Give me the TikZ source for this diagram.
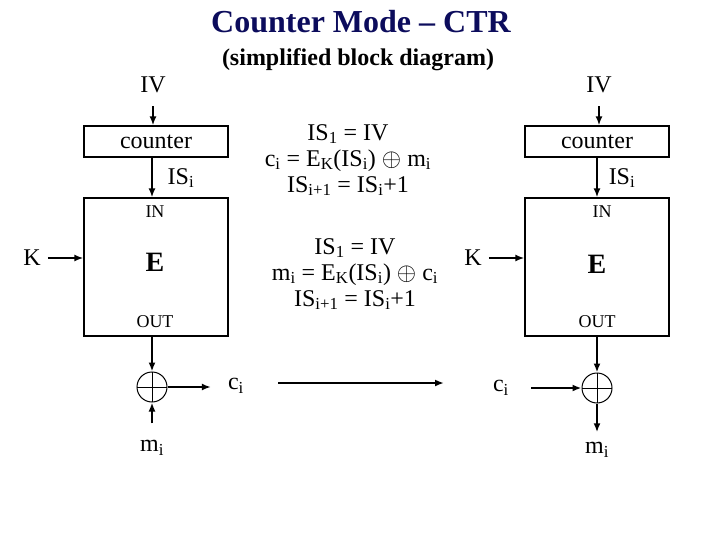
\documentclass[tikz,border=0pt]{standalone}
\usepackage{fontspec}
\setmainfont{Liberation Serif}
\usetikzlibrary{arrows.meta}
\definecolor{titleblue}{RGB}{12,12,92}
\newcommand{\sbs}[1]{\textsubscript{#1}}
\begin{document}
\begin{tikzpicture}[x=1pt,y=-1pt,
  box/.style={draw,line width=1.2pt,inner sep=0pt},
  arr/.style={line width=1.9pt,-{Latex[length=9pt,width=7pt]}},
  lbl/.style={font=\fontsize{24}{26}\selectfont,inner sep=0pt},
  small/.style={font=\fontsize{18}{20}\selectfont,inner sep=0pt},
  big/.style={font=\fontsize{28}{30}\selectfont\bfseries,inner sep=0pt},
  xor/.style={circle,draw,line width=1pt,minimum size=30pt,inner sep=0pt,
    path picture={\draw[line width=0.8pt] (path picture bounding box.north) -- (path picture bounding box.south)
      (path picture bounding box.west) -- (path picture bounding box.east);}},
  eqs/.style={font=\fontsize{24}{26}\selectfont,inner sep=0pt,align=center}
]
\useasboundingbox (0,0) rectangle (720,540);

% titles
\node[font=\fontsize{32}{34}\selectfont\bfseries,text=titleblue,inner sep=0pt] (title) at (361,22) {Counter Mode – CTR};
\node[font=\fontsize{24}{26}\selectfont\bfseries,inner sep=0pt] (sub) at (358,60) {(simplified block diagram)};

% left (encryption)
\node[lbl] (IVL) at (153,85) {IV};
\node[box,minimum width=144pt,minimum height=31pt,font=\fontsize{24}{26}\selectfont] (cntL) at (156,141.5) {counter};
\node[box,minimum width=144pt,minimum height=138pt] (EL) at (156,267) {};
\node[small] (INL) at (155,212) {IN};
\node[big] (EtL) at (155,262) {E};
\node[small] (OUTL) at (155,322) {OUT};
\node[lbl] (ISL) at (181,178) {IS\sbs{i}};
\node[lbl] (KL) at (32,258) {K};
\node[xor] (xL) at (152,387) {};
\node[lbl] (ciL) at (236,386) {c\sbs{i}};
\node[lbl] (miL) at (152,448) {m\sbs{i}};

\draw[arr] (IVL.south) ++(0,13) coordinate (ivls) -- (ivls |- cntL.north);
\draw[arr] (152,0 |- cntL.south) -- (152,0 |- EL.north);
\draw[arr] ([xshift=7pt]KL.east) -- (KL.east -| EL.west);
\draw[arr] (xL.north |- EL.south) -- (xL.north);
\draw[arr] (xL.east) -- ([xshift=-17pt]ciL.west |- xL.east);
\draw[arr] (miL.north) ++(0,-17) coordinate (mils) -- (xL.south);

% right (decryption)
\node[lbl] (IVR) at (599,85) {IV};
\node[box,minimum width=144pt,minimum height=31pt,font=\fontsize{24}{26}\selectfont] (cntR) at (597,141.5) {counter};
\node[box,minimum width=144pt,minimum height=138pt] (ER) at (597,267) {};
\node[small] (INR) at (602,212) {IN};
\node[big] (EtR) at (597,264) {E};
\node[small] (OUTR) at (597,322) {OUT};
\node[lbl] (ISR) at (622,178) {IS\sbs{i}};
\node[lbl] (KR) at (473,258) {K};
\node[xor] (xR) at (597,388) {};
\node[lbl] (ciR) at (501,388) {c\sbs{i}};
\node[lbl] (miR) at (597,450) {m\sbs{i}};

\draw[arr] (IVR.south) ++(0,13) coordinate (ivrs) -- (ivrs |- cntR.north);
\draw[arr] (cntR.south) -- (ER.north);
\draw[arr] ([xshift=7pt]KR.east) -- (KR.east -| ER.west);
\draw[arr] (ER.south) -- (xR.north);
\draw[arr] ([xshift=22pt]ciR.east |- xR.west) -- (xR.west);
\draw[arr] (xR.south) -- ([yshift=10pt]miR.north);

% middle
\node[eqs] (eq1) at (348,160) {IS\sbs{1} = IV\\c\sbs{i} = E\sbs{K}(IS\sbs{i}) $\oplus$ m\sbs{i}\\IS\sbs{i+1} = IS\sbs{i}+1};
\node[eqs] (eq2) at (355,274) {IS\sbs{1} = IV\\m\sbs{i} = E\sbs{K}(IS\sbs{i}) $\oplus$ c\sbs{i}\\IS\sbs{i+1} = IS\sbs{i}+1};
\coordinate (m1) at (278,383);
\coordinate (m2) at (444,383);
\draw[arr] (m1) -- (m2);
\end{tikzpicture}
\end{document}
